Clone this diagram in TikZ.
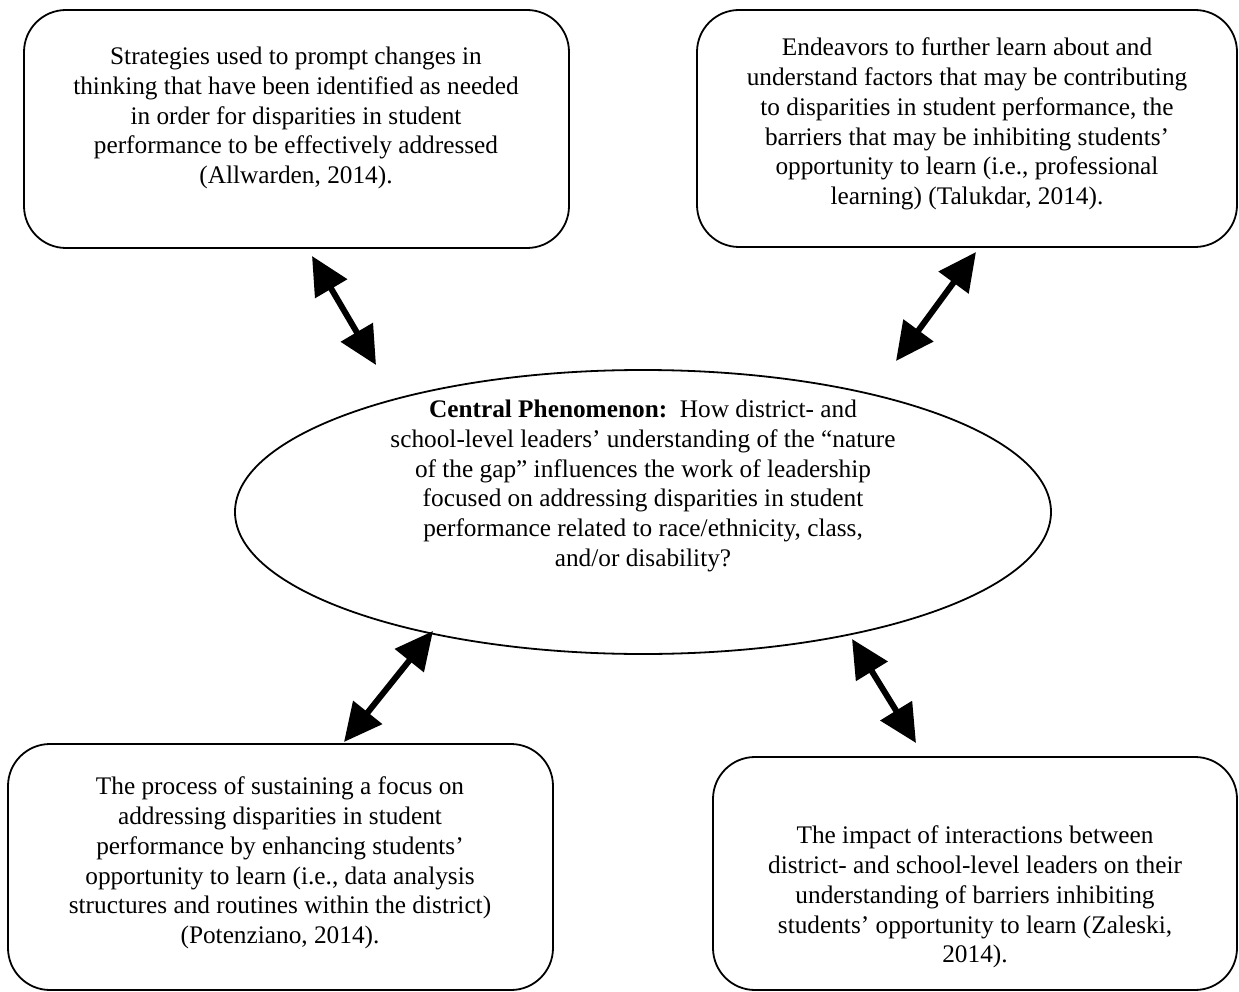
\documentclass[tikz,border=0pt]{standalone}
\usepackage{fontspec}
\setmainfont{Liberation Serif}
\usetikzlibrary{arrows.meta}
\begin{document}
\begin{tikzpicture}[x=1pt,y=-1pt,
  infobox/.style={draw=black,line width=1.8pt,rounded corners=42pt},
  boxtext/.style={align=center,inner sep=0pt,font=\fontsize{25.3}{29.8}\selectfont},
  linkarrow/.style={line width=6pt,{Triangle[length=38pt,width=36pt]}-{Triangle[length=38pt,width=36pt]}}]
\useasboundingbox (0,0) rectangle (1239,992);
\fill[white] (0,0) rectangle (1239,992);

% four boxes
\draw[infobox] (24,10) rectangle (569,248) coordinate[pos=0.5] (tl);
\draw[infobox] (697,10) rectangle (1237,247) coordinate[pos=0.5] (tr);
\draw[infobox] (8,744) rectangle (553,990) coordinate[pos=0.5] (bl);
\draw[infobox] (713,757) rectangle (1237,990) coordinate[pos=0.5] (br);

% central ellipse
\draw[line width=1.8pt] (643,512) ellipse [x radius=408, y radius=142];
\coordinate (centre) at (643,512);

% texts
\node[boxtext] (tltext) at (296,118) {Strategies used to prompt changes in\\
thinking that have been identified as needed\\
in order for disparities in student\\
performance to be effectively addressed\\
(Allwarden, 2014).};

\node[boxtext] (trtext) at (967,124) {Endeavors to further learn about and\\
understand factors that may be contributing\\
to disparities in student performance, the\\
barriers that may be inhibiting students’\\
opportunity to learn (i.e., professional\\
learning) (Talukdar, 2014).};

\node[boxtext] (ctext) at (643,486) {\textbf{Central Phenomenon:}\ \ How district- and\\
school-level leaders’ understanding of the “nature\\
of the gap” influences the work of leadership\\
focused on addressing disparities in student\\
performance related to race/ethnicity, class,\\
and/or disability?};

\node[boxtext] (bltext) at (280,863) {The process of sustaining a focus on\\
addressing disparities in student\\
performance by enhancing students’\\
opportunity to learn (i.e., data analysis\\
structures and routines within the district)\\
(Potenziano, 2014).};

\node[boxtext] (brtext) at (975,897) {The impact of interactions between\\
district- and school-level leaders on their\\
understanding of barriers inhibiting\\
students’ opportunity to learn (Zaleski,\\
2014).};

% arrow end points
\coordinate (a1s) at (312,256);
\coordinate (a1e) at (376,365);
\coordinate (a2s) at (976,252);
\coordinate (a2e) at (896,361);
\coordinate (a3s) at (433,631);
\coordinate (a3e) at (344,742);
\coordinate (a4s) at (852,639);
\coordinate (a4e) at (916,743);

\draw[linkarrow] (a1s) -- (a1e);
\draw[linkarrow] (a2s) -- (a2e);
\draw[linkarrow] (a3s) -- (a3e);
\draw[linkarrow] (a4s) -- (a4e);
\end{tikzpicture}
\end{document}
